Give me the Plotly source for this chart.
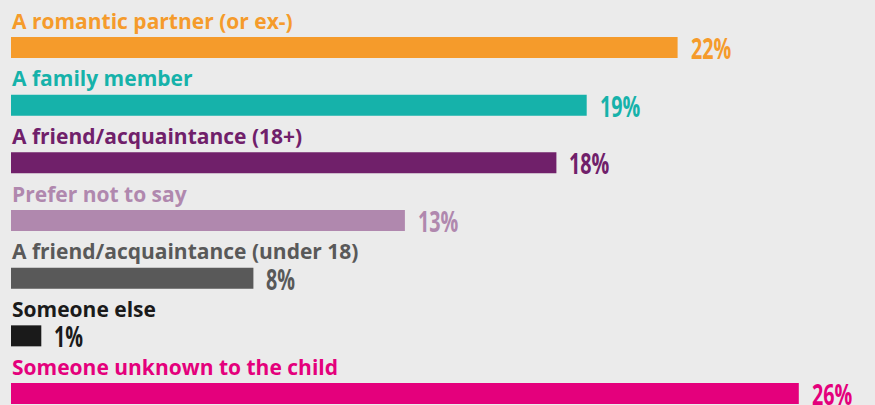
import plotly.graph_objects as go

categories = [
    "A romantic partner (or ex-)",
    "A family member",
    "A friend/acquaintance (18+)",
    "Prefer not to say",
    "A friend/acquaintance (under 18)",
    "Someone else",
    "Someone unknown to the child",
]
values = [22, 19, 18, 13, 8, 1, 26]
colors = ["#F59B2B", "#16B2AA", "#70206A", "#B088AE", "#595959", "#1A1A1A", "#E4007C"]

BG = "#EBEBEB"
W, H = 875, 405
x0_px, px_per_unit = 11, 30.3
row_px, first_center_px = 57.67, 47.5

fig = go.Figure(
    go.Bar(
        y=categories,
        x=values,
        orientation="h",
        marker=dict(color=colors, line=dict(width=0)),
        width=0.364,
        hoverinfo="skip",
    )
)

# category label above each bar
for cat, col in zip(categories, colors):
    fig.add_annotation(
        x=0, y=cat, xref="x", yref="y",
        text=f"<b>{cat}</b>", showarrow=False,
        xanchor="left", yanchor="middle", yshift=27, xshift=-1,
        font=dict(family="Open Sans", size=21, color=col),
    )

# value label to the right of each bar
for cat, val, col in zip(categories, values, colors):
    fig.add_annotation(
        x=val, y=cat, xref="x", yref="y",
        text=f"<b>{val}%</b>", showarrow=False,
        xanchor="left", yanchor="middle", xshift=11, yshift=0,
        font=dict(family="Open Sans", size=29, color=col),
    )

top_units = -first_center_px / row_px
fig.update_layout(
    width=W, height=H,
    margin=dict(l=0, r=0, t=0, b=0),
    paper_bgcolor=BG, plot_bgcolor=BG,
    showlegend=False,
    xaxis=dict(
        range=[-x0_px / px_per_unit, (W - x0_px) / px_per_unit],
        visible=False, fixedrange=True,
    ),
    yaxis=dict(
        type="category",
        categoryorder="array", categoryarray=categories,
        range=[top_units + H / row_px, top_units],
        visible=False, fixedrange=True,
    ),
)

# squeeze the percentage labels horizontally for a condensed look
condense_js = """
document.querySelectorAll('.annotation-text').forEach(function (t) {
  if (t.textContent.trim().endsWith('%')) {
    t.style.transformBox = 'fill-box';
    t.style.transformOrigin = 'left center';
    t.style.transform = 'scaleX(0.68)';
  }
});
"""

fig.write_html("out.html", post_script=condense_js)
